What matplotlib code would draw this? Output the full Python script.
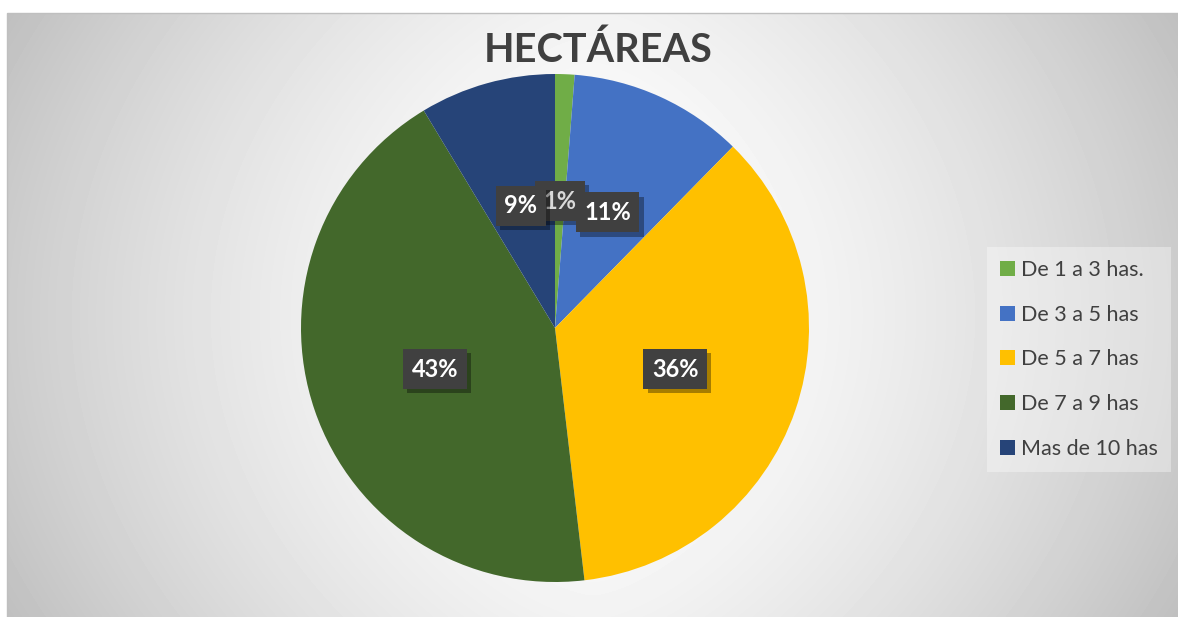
import numpy as np
import matplotlib
matplotlib.use("Agg")
import matplotlib.pyplot as plt
from matplotlib import patheffects as pe
from matplotlib.patches import Rectangle

# ---- data ----
categories = ["De 1 a 3 has.", "De 3 a 5 has", "De 5 a 7 has", "De 7 a 9 has", "Mas de 10 has"]
counts = [1, 9, 29, 35, 7]
colors = ["#70AD47", "#4472C4", "#FFC000", "#43682B", "#264478"]
title = "HECTÁREAS"

W_PX, H_PX = 1178, 617
fig = plt.figure(figsize=(W_PX / 100, H_PX / 100), dpi=100)
fig.patch.set_facecolor("white")

# ---- chart-area background with soft radial gradient ----
x0, y0 = 7, 13  # top-left of chart area in pixels
aw, ah = W_PX - x0, H_PX - y0
bg = fig.add_axes([x0 / W_PX, 0, aw / W_PX, ah / H_PX], zorder=0)
yy, xx = np.mgrid[0:ah, 0:aw]
dx = (xx - aw / 2) / (aw / 2)
dy = (yy - ah / 2) / (ah / 2)
v = 1 - 0.20 * np.abs(dx) ** 1.5 - 0.05 * dy ** 2
bg.imshow(v, cmap="gray", vmin=0, vmax=1, aspect="auto", interpolation="bilinear")
bg.set_axis_off()
fig.add_artist(Rectangle((x0 / W_PX, -0.01), aw / W_PX + 0.01, ah / H_PX + 0.01,
                         transform=fig.transFigure, fill=False, edgecolor="#bfbfbf",
                         linewidth=1.0, zorder=1))

# ---- pie ----
cx, cy, r = 555, 328, 254
ax = fig.add_axes([(cx - r) / W_PX, (H_PX - cy - r) / H_PX, 2 * r / W_PX, 2 * r / H_PX], zorder=2)
ax.set_facecolor("none")
wedges, texts, autotexts = ax.pie(
    counts, colors=colors, startangle=90, counterclock=False,
    autopct="%1.0f%%", pctdistance=0.5, radius=1,
    wedgeprops=dict(edgecolor="none"),
    textprops=dict(color="white", fontsize=17, fontweight="bold", family=["Lato", "DejaVu Sans"]),
)
ax.set_xlim(-1, 1)
ax.set_ylim(-1, 1)
ax.set_aspect("equal")
ax.set_axis_off()

for i, t in enumerate(autotexts):
    t.set_bbox(dict(boxstyle="square,pad=0.36", facecolor="#404040", edgecolor="none"))
    t.get_bbox_patch().set_path_effects([
        pe.SimplePatchShadow(offset=(3, -3), shadow_rgbFace="black", alpha=0.35),
        pe.Normal(),
    ])
    t.set_zorder(3 if i != 0 else 2.5)
autotexts[0].set_color("#d9d9d9")

# ---- title ----
fig.text(598 / W_PX, 1 - 50 / H_PX, title, ha="center", va="center",
         fontsize=28.5, fontweight="bold", color="#404040", family=["Lato", "DejaVu Sans"])

# ---- legend ----
leg = fig.legend(
    wedges, categories, loc="upper left",
    bbox_to_anchor=(987 / W_PX, 1 - 247 / H_PX), borderaxespad=0,
    prop=dict(family=["Lato", "DejaVu Sans"], size=15.5),
    handlelength=0.68, handleheight=0.68, handletextpad=0.3,
    labelspacing=1.15, borderpad=0.6,
    frameon=True, fancybox=False, facecolor="white", edgecolor="none", framealpha=0.35,
)
for txt in leg.get_texts():
    txt.set_color("#404040")

fig.savefig("out.png", dpi=100)
